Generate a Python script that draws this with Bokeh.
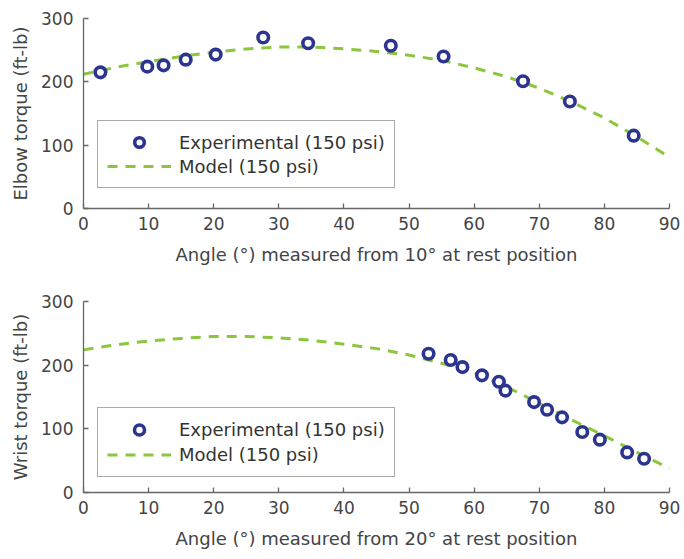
from bokeh.plotting import figure
from bokeh.layouts import column
from bokeh.models import FixedTicker, Range1d, Legend, LegendItem
from bokeh.embed import file_html
from bokeh.resources import INLINE

# ---- data ----
elbow_exp_angle = [2.6, 9.8, 12.3, 15.7, 20.3, 27.6, 34.5, 47.2, 55.3, 67.5, 74.7, 84.5]
elbow_exp_torque = [215, 224, 226, 235, 243, 270, 261, 257, 240, 201, 169, 115]

model_angle = [0, 5, 10, 15, 20, 25, 30, 35, 40, 45, 50, 55, 60, 65, 70, 75, 80, 85, 90]
elbow_model_torque = [212, 223, 232, 240, 247, 252, 255, 255, 252, 248, 242, 234, 222, 208, 190, 168, 143, 113, 81]

wrist_exp_angle = [53.0, 56.4, 58.2, 61.2, 63.8, 64.8, 69.2, 71.2, 73.5, 76.6, 79.3, 83.5, 86.1]
wrist_exp_torque = [218, 208, 197, 184, 174, 160, 142, 130, 118, 95, 83, 63, 53]

wrist_model_torque = [224, 232, 238, 242, 245, 245, 243, 239, 233, 226, 216, 203, 188, 166, 140, 114, 89, 63, 38]

x_ticks = [0, 10, 20, 30, 40, 50, 60, 70, 80, 90]
y_ticks = [0, 100, 200, 300]

exp_label = "Experimental (150 psi)"
model_label = "Model (150 psi)"

FONT = "DejaVu Sans"
TXT = "#444444"
AX = "#666666"
BLUE = "#2b3590"
GREEN = "#8cc63f"


def make_plot(height, top, bottom, xs, ys, model_y, xlabel, ylabel, leg_y, leg_row):
    p = figure(width=684, height=height, output_backend="svg", toolbar_location=None,
               x_range=Range1d(0, 90), y_range=Range1d(0, 300),
               min_border_left=83, min_border_right=15,
               min_border_top=top, min_border_bottom=bottom)
    p.outline_line_color = None
    p.xgrid.visible = False
    p.ygrid.visible = False
    p.background_fill_color = "white"
    p.border_fill_color = "white"

    line = p.line(model_angle, model_y, line_color=GREEN, line_width=3, line_dash="10 8")
    pts = p.scatter(xs, ys, size=10.5, fill_color="white", line_color=BLUE, line_width=3.6)

    for ax in (p.xaxis[0], p.yaxis[0]):
        ax.axis_line_color = AX
        ax.axis_line_width = 1.3
        ax.major_tick_line_color = AX
        ax.major_tick_line_width = 1.3
        ax.major_tick_in = 5
        ax.major_tick_out = 0
        ax.minor_tick_line_color = None
        ax.major_label_text_font = FONT
        ax.major_label_text_font_size = "17px"
        ax.major_label_text_color = TXT
        ax.axis_label_text_font = FONT
        ax.axis_label_text_font_size = "18px"
        ax.axis_label_text_font_style = "normal"
        ax.axis_label_text_color = TXT

    p.xaxis[0].ticker = FixedTicker(ticks=x_ticks)
    p.yaxis[0].ticker = FixedTicker(ticks=y_ticks)
    p.xaxis[0].axis_label = xlabel
    p.yaxis[0].axis_label = ylabel
    p.xaxis[0].major_label_standoff = 8
    p.xaxis[0].axis_label_standoff = 11
    p.yaxis[0].major_label_standoff = 10
    p.yaxis[0].axis_label_standoff = 7

    legend = Legend(items=[LegendItem(label=exp_label, renderers=[pts]),
                           LegendItem(label=model_label, renderers=[line])],
                    location=(14, leg_y))
    legend.label_text_font = FONT
    legend.label_text_font_size = "18px"
    legend.label_text_color = "#333333"
    legend.border_line_color = "#555555"
    legend.border_line_width = 1.5
    legend.background_fill_alpha = 1
    legend.glyph_width = 64
    legend.glyph_height = leg_row
    legend.label_height = leg_row
    legend.label_standoff = 8
    legend.padding = 9
    legend.spacing = 0
    legend.margin = 0
    legend.label_width = 203
    p.add_layout(legend)
    return p


p1 = make_plot(280, 18, 72, elbow_exp_angle, elbow_exp_torque, elbow_model_torque,
               "Angle (°) measured from 10° at rest position", "Elbow torque (ft-lb)", 20, 24)
p2 = make_plot(279, 21, 67, wrist_exp_angle, wrist_exp_torque, wrist_model_torque,
               "Angle (°) measured from 20° at rest position", "Wrist torque (ft-lb)", 15, 25)

layout = column(p1, p2, spacing=0)
open("out.html", "w").write(file_html(layout, INLINE))
